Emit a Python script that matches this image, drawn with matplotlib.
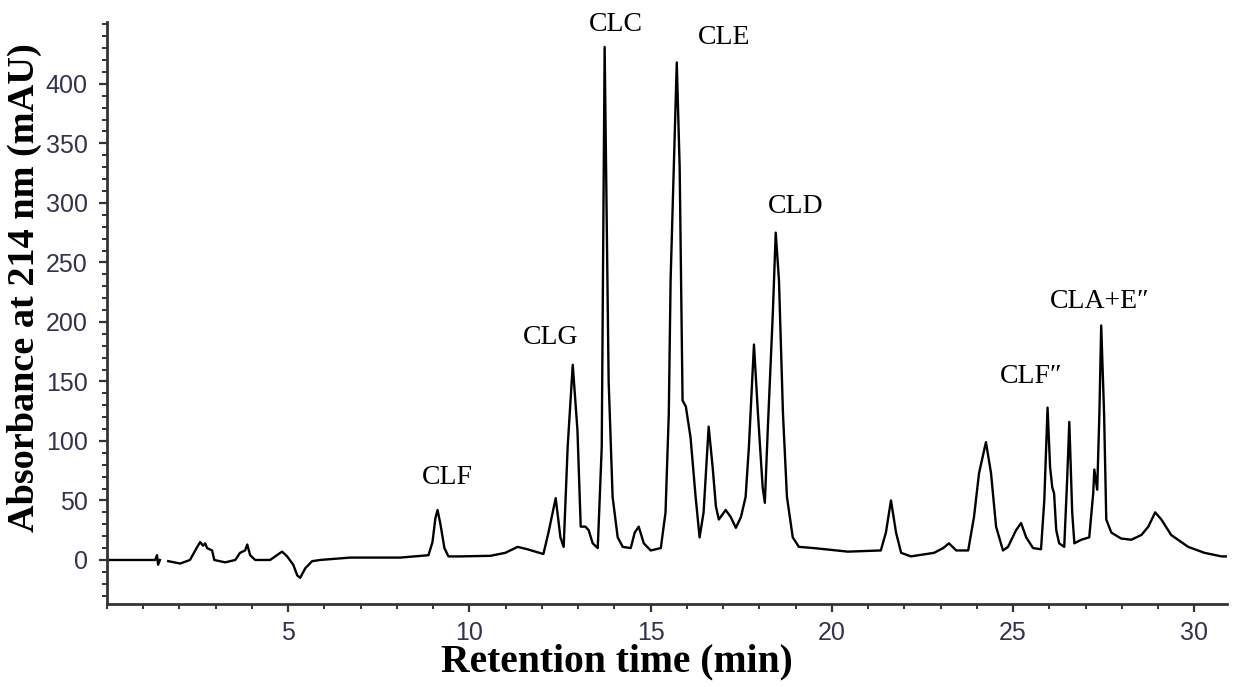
import matplotlib
matplotlib.use("Agg")
import matplotlib.pyplot as plt
from matplotlib.ticker import MultipleLocator
import numpy as np

# chromatogram trace (time in min, absorbance in mAU)
time_min = [
    0.00, 1.33, 1.38, 1.41, 1.46, np.nan, 1.69, 2.02, 2.29, 2.49, 2.57, 2.65, 2.71, 2.76, 2.90,
    2.96, 3.26, 3.54, 3.67, 3.81, 3.87, 3.95, 4.09, 4.50, 4.83, 4.97, 5.14, 5.25, 5.33,
    5.47, 5.66, 5.88, 6.71, 8.09, 8.87, 8.98, 9.06, 9.12, 9.20, 9.31, 9.42, 9.75, 10.58,
    10.99, 11.33, 11.60, 12.04, 12.18, 12.38, 12.51, 12.60, 12.71, 12.85, 12.98, 13.07,
    13.20, 13.29, 13.40, 13.54, 13.65, 13.70, 13.73, 13.79, 13.84, 13.95, 14.09, 14.23,
    14.45, 14.56, 14.67, 14.81, 15.00, 15.28, 15.41, 15.50, 15.55, 15.72, 15.80, 15.88,
    15.97, 16.10, 16.24, 16.35, 16.46, 16.60, 16.71, 16.80, 16.88, 17.07, 17.21, 17.35,
    17.49, 17.62, 17.71, 17.85, 17.96, 18.09, 18.15, 18.23, 18.37, 18.45, 18.54, 18.65,
    18.76, 18.92, 19.09, 19.50, 20.44, 21.35, 21.49, 21.63, 21.77, 21.91, 22.18, 22.82,
    23.07, 23.23, 23.43, 23.76, 23.92, 24.06, 24.25, 24.39, 24.53, 24.72, 24.86, 25.08,
    25.22, 25.36, 25.55, 25.77, 25.86, 25.95, 26.02, 26.08, 26.13, 26.19, 26.27, 26.41,
    26.49, 26.55, 26.63, 26.69, 26.88, 27.10, 27.21, 27.24, 27.32, 27.38, 27.43, 27.51,
    27.57, 27.71, 27.98, 28.26, 28.54, 28.73, 28.92, 29.09, 29.36, 29.83, 30.28, 30.75,
    31.08,
]
absorbance = [
    0, 0, 4, -4, 0, np.nan, -1, -3, 0, 11, 15, 12, 14, 10, 8,
    0, -2, 0, 6, 8, 13, 4, 0, 0, 7, 3, -4, -13, -15,
    -7, -1, 0, 2, 2, 4, 15, 35, 42, 30, 10, 3, 3, 3.5,
    6, 11, 9, 5, 23, 52, 19, 11, 95, 164, 109, 28,
    28, 25, 14, 10, 95, 300, 431, 280, 151, 53, 19, 11,
    10, 23, 28, 14, 8, 10, 40, 123, 235, 418, 330, 134,
    129, 103, 53, 19, 40, 112, 78, 45, 34, 42, 36, 27,
    36, 53, 95, 181, 123, 61, 48, 109, 207, 275, 235, 123,
    53, 19, 11, 10, 7, 8, 23, 50, 23, 6, 3, 6,
    10, 14, 8, 8, 36, 73, 99, 73, 28, 8, 11, 25,
    31, 19, 10, 9, 50, 128, 78, 61, 56, 25, 14, 11,
    67, 116, 40, 14, 17, 19, 56, 76, 59, 123, 197, 123,
    34, 23, 18, 17, 21, 28, 40, 34, 21, 11, 6, 3,
    3,
]

peak_names = ["CLF", "CLG", "CLC", "CLE", "CLD", "CLF\u2033", "CLA+E\u2033"]
peak_label_x = [9.38, 12.24, 14.03, 17.04, 19.0, 25.5, 27.4]
peak_label_y = [69, 187, 450, 439, 297, 154, 217]

fig = plt.figure(figsize=(12.34, 6.87), dpi=100)
ax = fig.add_axes([0.0867, 0.1208, 0.9076, 0.8472])

ax.plot(time_min, absorbance, color="black", lw=1.7)

serif = ["Liberation Serif", "DejaVu Serif"]
for name, x, y in zip(peak_names, peak_label_x, peak_label_y):
    ax.text(x, y, name, ha="center", va="center", fontsize=20, family=serif,
            clip_on=False)

ax.set_xlim(0, 30.9)
ax.set_ylim(-37, 452)
ax.xaxis.set_major_locator(MultipleLocator(5))
ax.xaxis.set_minor_locator(MultipleLocator(1))
ax.yaxis.set_major_locator(MultipleLocator(50))
ax.yaxis.set_minor_locator(MultipleLocator(10))
ax.set_xticks([5, 10, 15, 20, 25, 30])
ax.set_yticks(np.arange(0, 401, 50))

for side in ["top", "right"]:
    ax.spines[side].set_visible(False)
for side in ["left", "bottom"]:
    ax.spines[side].set_linewidth(2)
    ax.spines[side].set_color("#333333")

ax.tick_params(which="major", direction="out", length=6, width=1.6, color="#333333",
               labelsize=18, labelcolor="#33334d")
ax.tick_params(axis="x", which="major", pad=6)
ax.tick_params(axis="y", which="major", pad=8)
ax.tick_params(which="minor", direction="out", length=3.5, width=1.4, color="#333333")
for lab in ax.get_xticklabels() + ax.get_yticklabels():
    lab.set_family(["Liberation Sans", "DejaVu Sans"])

ax.set_xlabel("Retention time (min)", fontsize=28.5, fontweight="bold", family=serif)
ax.set_ylabel("Absorbance at 214 nm (mAU)", fontsize=27.5, fontweight="bold", family=serif)
ax.xaxis.set_label_coords(0.455, -0.1)
ax.xaxis.label.set_va("center")
ax.yaxis.set_label_coords(-0.074, 0.543)
ax.yaxis.label.set_va("center")

fig.savefig("out.png", dpi=100)
